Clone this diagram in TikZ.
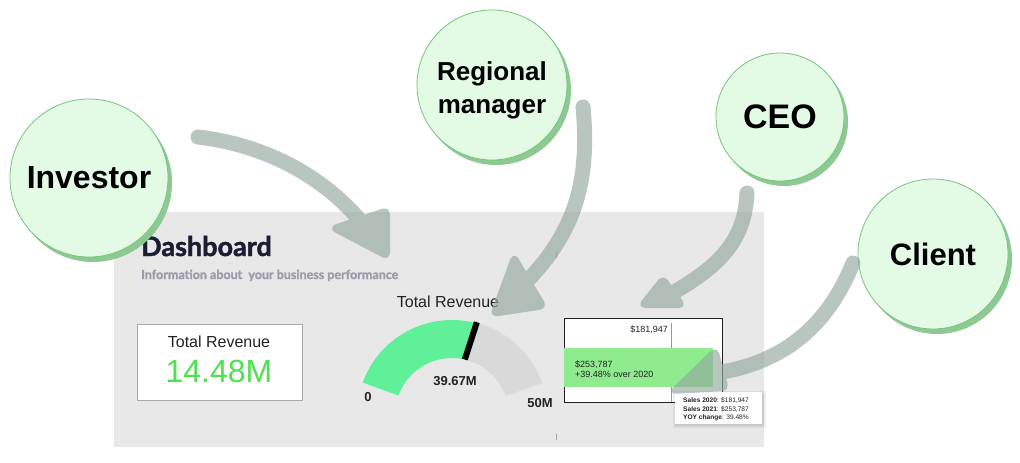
\documentclass[tikz,border=0pt]{standalone}
\usepackage{fontspec}
\setmainfont{Liberation Sans}
\newfontfamily\lato{Lato}[BoldFeatures={FakeBold=1.6}]
\usetikzlibrary{shadows}
\definecolor{panelgray}{HTML}{E8E8E8}
\definecolor{titlec}{HTML}{1B1D33}
\definecolor{subc}{HTML}{9C9CAC}
\definecolor{boxc}{HTML}{A8A8A8}
\definecolor{kpigreen}{HTML}{4EE24E}
\definecolor{gaugegreen}{HTML}{60F09A}
\definecolor{gaugegray}{HTML}{D9D9D9}
\definecolor{bargreen}{HTML}{8EEB8E}
\definecolor{circfill}{HTML}{E3FAE5}
\definecolor{circborder}{HTML}{76C47C}
\definecolor{circshadow}{HTML}{8EC893}
\definecolor{arrowc}{HTML}{92A89E}
\definecolor{textdark}{HTML}{222222}
\tikzset{
  persona/.style={circle, draw=circborder, line width=0.8pt, fill=circfill,
    drop shadow={shadow xshift=4pt, shadow yshift=-5pt, fill=circshadow, opacity=1},
    align=center, inner sep=0pt, text=black},
  stem/.style={draw=arrowc, line width=15pt, line cap=round},
  head/.style={fill=arrowc, draw=arrowc, line width=4pt, line join=round, rounded corners=5pt},
  txt/.style={inner sep=0pt, text=textdark},
}
\begin{document}
\begin{tikzpicture}[x=1pt,y=-1pt]
\useasboundingbox (0,0) rectangle (1020,463);
\fill[white] (0,0) rectangle (1020,463);
% dashboard panel
\fill[panelgray] (114,212) rectangle (764,447);
\node[txt, anchor=base west, font=\lato\bfseries\fontsize{27}{30}\selectfont, text=titlec] (title) at (141,256) {Dashboard};
\node[txt, anchor=base west, font=\lato\bfseries\fontsize{12.5}{14}\selectfont, text=subc] (subtitle) at (141,279) {Information about\ \ your business performance};
% handles
\draw[gray!70, line width=1pt] (556,252) -- (556,258);
\draw[gray!70, line width=1pt] (556,434) -- (556,440);
% KPI box
\node[draw=boxc, line width=1pt, fill=white, minimum width=165pt, minimum height=76pt, anchor=north west, inner sep=0pt] (kpi) at (137,324) {};
\node[txt, anchor=base, font=\fontsize{16}{18}\selectfont] (kpilabel) at (219,347) {Total Revenue};
\node[txt, anchor=base, font=\fontsize{32}{34}\selectfont, text=kpigreen] (kpival) at (219,382) {14.48M};
% gauge
\node[txt, anchor=base, font=\fontsize{16}{18}\selectfont] (gtitle) at (448,307) {Total Revenue};
\begin{scope}[shift={(452,415)}, y=1pt]
  \fill[gaugegray!80!white] (76:96) arc[start angle=76,end angle=19,radius=96] -- (19:57) arc[start angle=19,end angle=76,radius=57] -- cycle;
  \fill[gaugegray] (76:95) arc[start angle=76,end angle=20,radius=95] -- (20:57) arc[start angle=20,end angle=76,radius=57] -- cycle;
  \fill[gaugegreen] (160:95) arc[start angle=160,end angle=76,radius=95] -- (76:57) arc[start angle=76,end angle=160,radius=57] -- cycle;
  \draw[black, line width=6pt] (77:57) -- (75:96);
\end{scope}
\node[txt, anchor=base, font=\bfseries\fontsize{13}{15}\selectfont] (gval) at (455,385) {39.67M};
\node[txt, anchor=base, font=\bfseries\fontsize{13}{15}\selectfont] (gmin) at (368,401) {0};
\node[txt, anchor=base, font=\bfseries\fontsize{13}{15}\selectfont] (gmax) at (540,407) {50M};
% bar chart
\node[draw=textdark, line width=1pt, fill=white, minimum width=158pt, minimum height=84pt, anchor=north west, inner sep=0pt] (bars) at (564,318) {};
\draw[gray!80, line width=1pt] (671,323) -- (671,402);
\fill[bargreen] (564,348) rectangle (713,387);
\node[txt, anchor=base east, font=\fontsize{9}{11}\selectfont] (v2020) at (668,332) {\$181,947};
\node[txt, anchor=base west, font=\fontsize{9}{11}\selectfont] (v2021) at (575,367) {\$253,787};
\node[txt, anchor=base west, font=\fontsize{9}{11}\selectfont] (vyoy) at (575,377) {+39.48\% over 2020};
% tooltip
\fill[black, opacity=0.06] (673,391) rectangle (766,428);
\fill[black, opacity=0.08] (675,393) rectangle (764,426);
\fill[white] (675,392) rectangle (762,424);
\node[txt, anchor=base west, font=\fontsize{6.6}{8}\selectfont] (tt1) at (683,402) {\textbf{Sales 2020}: \$181,947};
\node[txt, anchor=base west, font=\fontsize{6.6}{8}\selectfont] (tt2) at (683,411) {\textbf{Sales 2021}: \$253,787};
\node[txt, anchor=base west, font=\fontsize{6.6}{8}\selectfont] (tt3) at (683,419) {\textbf{YOY change}: 39.48\%};
% personas
\node[persona, minimum size=158pt, font=\bfseries\fontsize{32}{34}\selectfont] (investor) at (89,178) {Investor};
\node[persona, minimum size=150pt] (regional) at (492,85) {};
\node[inner sep=0pt, align=center, font=\bfseries\fontsize{26}{33}\selectfont] (regtext) at (492,90) {Regional\\manager};
\node[persona, minimum size=128pt, font=\bfseries\fontsize{34}{36}\selectfont] (ceo) at (780,117) {CEO};
\node[persona, minimum size=150pt, font=\bfseries\fontsize{31}{34}\selectfont] (client) at (933,254) {Client};
% arrows
\coordinate (invS) at (198,137);
\coordinate (invE) at (358,218);
\coordinate (regS) at (583,107);
\coordinate (regE) at (530,278);
\coordinate (ceoS) at (747,193);
\coordinate (ceoE) at (676,291);
\coordinate (cliS) at (853,263);
\coordinate (cliE) at (722,372);
\begin{scope}[transparency group, opacity=0.65]
  \draw[stem] (invS) .. controls (265,145) and (320,175) .. (invE);
  \fill[head] (331,228) -- (388,209) -- (388,258) -- cycle;
  \draw[stem] (regS) .. controls (590,180) and (575,230) .. (regE);
  \fill[head] (514,255) -- (545,307) -- (492,315) -- cycle;
  \draw[stem] (ceoS) .. controls (745,240) and (720,265) .. (ceoE);
  \fill[head] (663,277) -- (684,306) -- (640,306) -- cycle;
  \draw[stem] (cliS) .. controls (830,320) and (790,360) .. (cliE);
  \fill[head] (716,349) -- (727,389) -- (671,392) -- cycle;
\end{scope}
\end{tikzpicture}
\end{document}
